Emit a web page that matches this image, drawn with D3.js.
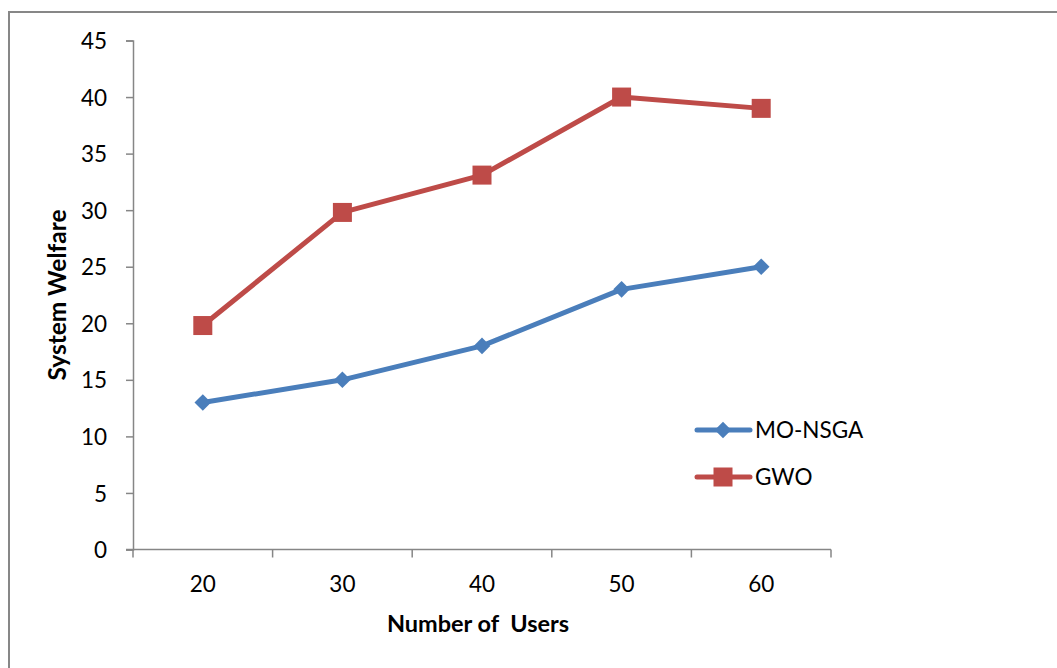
<!DOCTYPE html>
<html>
<head>
<meta charset="utf-8">
<script src="https://cdn.jsdelivr.net/npm/d3@7"></script>
<style>
  html, body { margin: 0; padding: 0; background: #fff; }
  svg { display: block; }
  text { font-family: Lato, "Open Sans", sans-serif; fill: #000; }
</style>
</head>
<body>
<svg id="chart" width="1057" height="668"></svg>
<script>
// Data
const categories = ["20", "30", "40", "50", "60"];
const moNsga = [13, 15, 18, 23, 25];
const gwo = [19.8, 29.8, 33.1, 40, 39];
const yTicks = [0, 5, 10, 15, 20, 25, 30, 35, 40, 45];
const seriesNames = ["MO-NSGA", "GWO"];

const svg = d3.select("#chart");

// Outer frame
svg.append("rect")
  .attr("x", 9).attr("y", 12)
  .attr("width", 1060).attr("height", 680)
  .attr("fill", "none").attr("stroke", "#878787").attr("stroke-width", 2);

const plot = { left: 133, right: 831, top: 40.5, bottom: 549.5 };

const x = d3.scaleBand().domain(categories).range([plot.left, plot.right]);
const y = d3.scaleLinear().domain([0, 45]).range([plot.bottom, plot.top]);

const tickFont = "22.5px";

// Y axis
const yAxis = d3.axisLeft(y).tickValues(yTicks).tickSize(7).tickPadding(19).tickFormat(d3.format("d"));
const gy = svg.append("g").attr("transform", `translate(${plot.left},0)`).call(yAxis);
gy.select(".domain").attr("stroke", "#868686").attr("stroke-width", 1.5);
gy.selectAll(".tick line").attr("stroke", "#868686").attr("stroke-width", 1.5);
gy.selectAll(".tick text").style("font-size", tickFont).attr("dy", "0.36em");

// X axis: ticks on category boundaries
const gx = svg.append("g").attr("transform", `translate(0,${plot.bottom})`);
gx.append("line")
  .attr("x1", plot.left - 7).attr("x2", plot.right)
  .attr("stroke", "#868686").attr("stroke-width", 1.5);
const bounds = categories.map(c => x(c)).concat([x.range()[1]]);
gx.selectAll("line.tk").data(bounds).join("line")
  .attr("class", "tk")
  .attr("x1", d => d).attr("x2", d => d)
  .attr("y1", 0).attr("y2", 8)
  .attr("stroke", "#868686").attr("stroke-width", 1.5);
gx.selectAll("text").data(categories).join("text")
  .attr("x", d => x(d) + x.bandwidth() / 2)
  .attr("y", 42.5)
  .attr("text-anchor", "middle")
  .style("font-size", tickFont)
  .text(d => d);

// Axis titles
svg.append("text")
  .attr("transform", `translate(66,${(plot.top + plot.bottom) / 2}) rotate(-90)`)
  .attr("text-anchor", "middle")
  .style("font-size", "24.5px").style("font-weight", "bold")
  .text("System Welfare");
svg.append("text")
  .attr("x", 478).attr("y", 632)
  .attr("text-anchor", "middle")
  .style("font-size", "23.5px").style("font-weight", "bold")
  .attr("xml:space", "preserve")
  .text("Number of  Users");

const cx = c => x(c) + x.bandwidth() / 2;
const line = d3.line().x((d, i) => cx(categories[i])).y(d => y(d));

const blue = "#4a7ebb";
const red = "#be4b48";

// MO-NSGA series
svg.append("path").datum(moNsga)
  .attr("d", line).attr("fill", "none")
  .attr("stroke", blue).attr("stroke-width", 5).attr("stroke-linejoin", "round");
const diamond = d3.symbol().type(d3.symbolDiamond2).size(175);
svg.selectAll("path.mo").data(moNsga).join("path")
  .attr("class", "mo")
  .attr("d", diamond)
  .attr("transform", (d, i) => `translate(${cx(categories[i])},${y(d)})`)
  .attr("fill", blue);

// GWO series
svg.append("path").datum(gwo)
  .attr("d", line).attr("fill", "none")
  .attr("stroke", red).attr("stroke-width", 5).attr("stroke-linejoin", "round");
const sq = 19;
svg.selectAll("rect.gw").data(gwo).join("rect")
  .attr("class", "gw")
  .attr("x", (d, i) => cx(categories[i]) - sq / 2)
  .attr("y", d => y(d) - sq / 2)
  .attr("width", sq).attr("height", sq)
  .attr("fill", red);

// Legend
const legend = svg.append("g");
const legItems = [
  { name: seriesNames[0], color: blue, shape: "diamond", y: 430 },
  { name: seriesNames[1], color: red, shape: "square", y: 477 }
];
legItems.forEach(it => {
  legend.append("line")
    .attr("x1", 697).attr("x2", 750)
    .attr("y1", it.y).attr("y2", it.y)
    .attr("stroke", it.color).attr("stroke-width", 5).attr("stroke-linecap", "round");
  if (it.shape === "diamond") {
    legend.append("path").attr("d", diamond)
      .attr("transform", `translate(723,${it.y})`).attr("fill", it.color);
  } else {
    legend.append("rect")
      .attr("x", 723 - sq / 2).attr("y", it.y - sq / 2)
      .attr("width", sq).attr("height", sq).attr("fill", it.color);
  }
  legend.append("text")
    .attr("x", 755).attr("y", it.y).attr("dy", "0.36em")
    .style("font-size", tickFont)
    .text(it.name);
});
</script>
</body>
</html>
